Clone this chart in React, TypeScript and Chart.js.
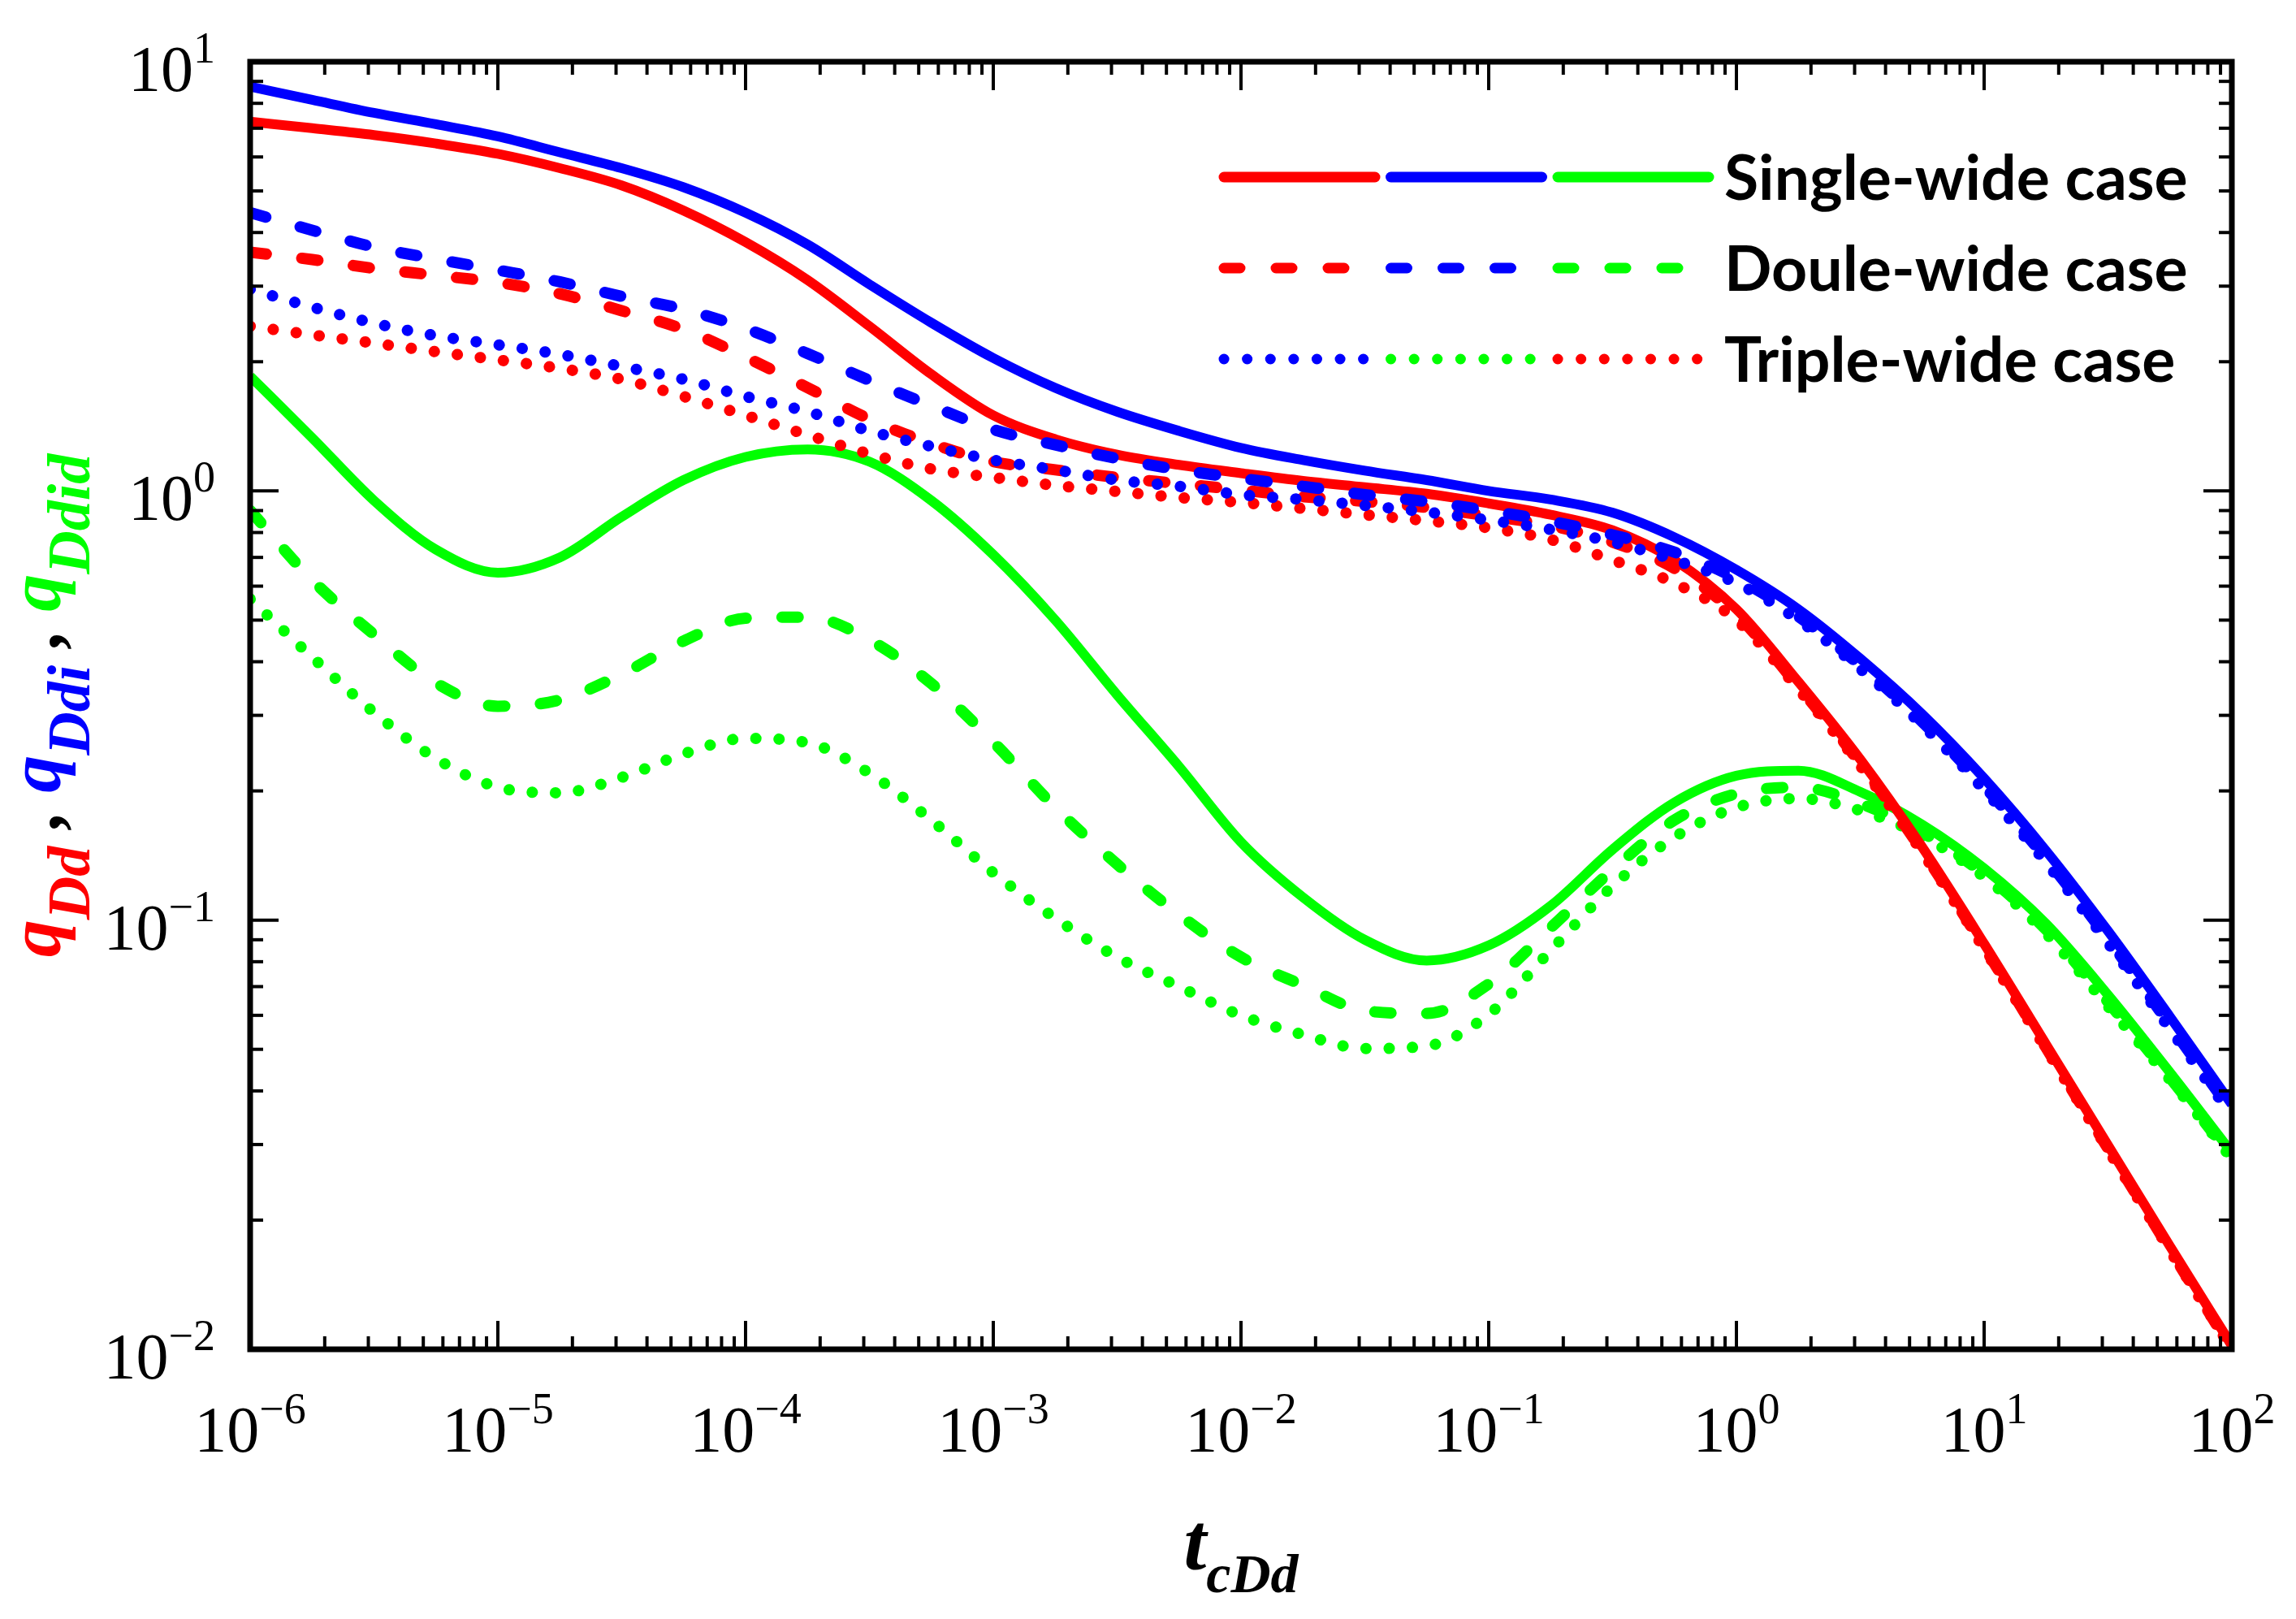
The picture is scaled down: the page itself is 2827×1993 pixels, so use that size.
import { useEffect, useRef } from "react";
import { Chart, registerables } from "chart.js";

Chart.register(...registerables);

// dimensionless time, quarter-decade grid
const tcDd = [
  1e-6, 1.78e-6, 3.16e-6, 5.62e-6, 1e-5, 1.78e-5, 3.16e-5, 5.62e-5, 1e-4, 1.78e-4, 3.16e-4, 5.62e-4,
  1e-3, 1.78e-3, 3.16e-3, 5.62e-3, 1e-2, 1.78e-2, 3.16e-2, 5.62e-2, 0.1, 0.178, 0.316, 0.562, 1, 1.78,
  3.16, 5.62, 10, 17.8, 31.6, 56.2, 100,
];

// single-wide case
const redSolid = [7.25, 7.0, 6.75, 6.45, 6.1, 5.65, 5.15, 4.5, 3.8, 3.1, 2.42, 1.87, 1.5, 1.32, 1.215, 1.15, 1.1, 1.055, 1.02, 0.985, 0.935, 0.88, 0.81, 0.69, 0.53, 0.359, 0.237, 0.148, 0.0881, 0.0513, 0.0299, 0.0174, 0.0102];
const blueSolid = [8.75, 8.15, 7.6, 7.15, 6.7, 6.15, 5.65, 5.1, 4.45, 3.75, 3.03, 2.466, 2.04, 1.738, 1.53, 1.38, 1.26, 1.18, 1.115, 1.06, 1.0, 0.955, 0.89, 0.78, 0.655, 0.53, 0.407, 0.302, 0.214, 0.145, 0.0944, 0.0596, 0.0372];
const greenSolid = [1.85, 1.33, 0.95, 0.73, 0.645, 0.7, 0.87, 1.06, 1.2, 1.25, 1.17, 0.95, 0.71, 0.5, 0.335, 0.228, 0.152, 0.113, 0.09, 0.0805, 0.0873, 0.108, 0.146, 0.188, 0.217, 0.223, 0.199, 0.167, 0.132, 0.098, 0.067, 0.0442, 0.0287];

// double-wide case
const redDashed = [3.6, 3.46, 3.3, 3.18, 3.06, 2.88, 2.63, 2.38, 2.05, 1.74, 1.47, 1.29, 1.17, 1.12, 1.075, 1.04, 1.005, 0.97, 0.945, 0.915, 0.875, 0.83, 0.76, 0.66, 0.515, 0.35, 0.232, 0.145, 0.0865, 0.0504, 0.0294, 0.0171, 0.01];
const blueDashed = [4.45, 4.05, 3.7, 3.47, 3.27, 3.07, 2.84, 2.65, 2.39, 2.09, 1.81, 1.58, 1.39, 1.28, 1.19, 1.12, 1.07, 1.025, 0.98, 0.944, 0.9, 0.85, 0.79, 0.72, 0.625, 0.51, 0.392, 0.29, 0.205, 0.139, 0.0905, 0.057, 0.0358];
const greenDashed = [0.9, 0.62, 0.463, 0.357, 0.315, 0.326, 0.374, 0.447, 0.505, 0.508, 0.45, 0.356, 0.26, 0.183, 0.135, 0.103, 0.082, 0.0705, 0.0615, 0.0606, 0.071, 0.096, 0.131, 0.171, 0.197, 0.204, 0.187, 0.16, 0.128, 0.095, 0.0645, 0.043, 0.028];

// triple-wide case
const redDotted = [2.42, 2.31, 2.21, 2.11, 2.02, 1.93, 1.82, 1.66, 1.5, 1.35, 1.22, 1.125, 1.075, 1.03, 0.997, 0.965, 0.94, 0.91, 0.88, 0.852, 0.82, 0.77, 0.69, 0.61, 0.5, 0.345, 0.229, 0.144, 0.0858, 0.05, 0.0292, 0.017, 0.01];
const blueDotted = [2.95, 2.68, 2.46, 2.3, 2.19, 2.08, 1.95, 1.82, 1.66, 1.53, 1.38, 1.27, 1.18, 1.12, 1.06, 1.025, 0.98, 0.955, 0.925, 0.893, 0.855, 0.813, 0.76, 0.69, 0.61, 0.5, 0.385, 0.285, 0.201, 0.136, 0.0885, 0.0558, 0.035];
const greenDotted = [0.56, 0.41, 0.305, 0.238, 0.204, 0.198, 0.215, 0.244, 0.265, 0.259, 0.22, 0.171, 0.129, 0.101, 0.082, 0.07, 0.06, 0.0541, 0.0502, 0.0509, 0.0603, 0.085, 0.12, 0.156, 0.183, 0.192, 0.18, 0.157, 0.126, 0.093, 0.063, 0.0425, 0.0278];

const xTickExps = ["-6", "-5", "-4", "-3", "-2", "-1", "0", "1", "2"];
const yTickExps = ["-2", "-1", "0", "1"];
const minorSteps = [2, 3, 4, 5, 6, 7, 8, 9];

const legendLabels = ["Single-wide case", "Doule-wide case", "Triple-wide case"];

const RED = "#ff0000";
const BLUE = "#0000ff";
const GREEN = "#00ff00";

const SOLID: number[] = [];
const DASHED = [20, 44];
const DOTTED = [0.1, 28.5];

const legendRows = [
  { dash: SOLID, colors: [RED, BLUE, GREEN] },
  { dash: DASHED, colors: [RED, BLUE, GREEN] },
  { dash: DOTTED, colors: [BLUE, GREEN, RED] },
];

const SERIF = '"Liberation Serif", "Times New Roman", serif';

type Run = { text: string; size: number; color: string; dy: number };

function drawRuns(ctx: CanvasRenderingContext2D, runs: Run[], x: number, y: number, style: string) {
  let w = 0;
  for (const r of runs) {
    ctx.font = `${style} ${r.size}px ${SERIF}`;
    w += ctx.measureText(r.text).width;
  }
  let cx = x - w / 2;
  for (const r of runs) {
    ctx.font = `${style} ${r.size}px ${SERIF}`;
    ctx.fillStyle = r.color;
    ctx.fillText(r.text, cx, y + r.dy);
    cx += ctx.measureText(r.text).width;
  }
}

function powLabel(ctx: CanvasRenderingContext2D, exp: string, x: number, y: number, align: "center" | "right") {
  const e = exp.replace("-", "\u2212");
  ctx.font = `80px ${SERIF}`;
  const wb = ctx.measureText("10").width;
  ctx.font = `54px ${SERIF}`;
  const we = ctx.measureText(e).width;
  const left = align === "center" ? x - (wb + we) / 2 : x - wb - we;
  ctx.fillStyle = "#000";
  ctx.font = `80px ${SERIF}`;
  ctx.fillText("10", left, y);
  ctx.font = `54px ${SERIF}`;
  ctx.fillText(e, left + wb, y - 35);
}

const decorPlugin = {
  id: "decor",
  afterDraw(chart: Chart) {
    const { ctx, chartArea: a } = chart;
    const xs = chart.scales.x;
    const ys = chart.scales.y;
    ctx.save();
    ctx.textAlign = "left";
    ctx.textBaseline = "alphabetic";

    // inward ticks on all four sides
    ctx.strokeStyle = "#000";
    ctx.lineWidth = 4;
    ctx.lineCap = "butt";
    ctx.setLineDash([]);
    const seg = (x1: number, y1: number, x2: number, y2: number) => {
      ctx.beginPath();
      ctx.moveTo(x1, y1);
      ctx.lineTo(x2, y2);
      ctx.stroke();
    };
    xTickExps.forEach((e, i) => {
      const base = Math.pow(10, Number(e));
      const steps = i < xTickExps.length - 1 ? [1, ...minorSteps] : [1];
      steps.forEach((m) => {
        const px = xs.getPixelForValue(base * m);
        const len = m === 1 ? 35 : 16;
        seg(px, a.bottom, px, a.bottom - len);
        seg(px, a.top, px, a.top + len);
      });
    });
    yTickExps.forEach((e, i) => {
      const base = Math.pow(10, Number(e));
      const steps = i < yTickExps.length - 1 ? [1, ...minorSteps] : [1];
      steps.forEach((m) => {
        const py = ys.getPixelForValue(base * m);
        const len = m === 1 ? 35 : 16;
        seg(a.left, py, a.left + len, py);
        seg(a.right, py, a.right - len, py);
      });
    });

    // frame
    ctx.lineWidth = 7;
    ctx.strokeRect(a.left, a.top, a.right - a.left, a.bottom - a.top);

    // tick labels
    xTickExps.forEach((e) => powLabel(ctx, e, xs.getPixelForValue(Math.pow(10, Number(e))), a.bottom + 126, "center"));
    yTickExps.forEach((e) => powLabel(ctx, e, 265, ys.getPixelForValue(Math.pow(10, Number(e))) + 36, "right"));

    // axis titles
    drawRuns(
      ctx,
      [
        { text: "t", size: 100, color: "#000", dy: 0 },
        { text: "cDd", size: 68, color: "#000", dy: 28 },
      ],
      (a.left + a.right) / 2,
      1932,
      "bold italic"
    );
    ctx.save();
    ctx.translate(74, (a.top + a.bottom) / 2);
    ctx.rotate(-Math.PI / 2);
    drawRuns(
      ctx,
      [
        { text: "q", size: 92, color: RED, dy: 0 },
        { text: "Dd", size: 74, color: RED, dy: 36 },
        { text: " , ", size: 88, color: "#000", dy: 0 },
        { text: "q", size: 92, color: BLUE, dy: 0 },
        { text: "Ddi", size: 74, color: BLUE, dy: 36 },
        { text: " , ", size: 88, color: "#000", dy: 0 },
        { text: "q", size: 92, color: GREEN, dy: 0 },
        { text: "Ddid", size: 74, color: GREEN, dy: 36 },
      ],
      0,
      0,
      "bold italic"
    );
    ctx.restore();

    // legend
    legendRows.forEach((row, r) => {
      const y = 218 + r * 112;
      row.colors.forEach((c, k) => {
        const sx = 1500 + k * 205.5;
        ctx.strokeStyle = c;
        ctx.lineWidth = 13;
        ctx.lineCap = "round";
        ctx.setLineDash(row.dash);
        ctx.lineDashOffset = 0;
        seg(sx + 7, y, sx + 193, y);
      });
      ctx.setLineDash([]);
      ctx.fillStyle = "#000";
      ctx.font = 'bold 77px Lato, "Open Sans", sans-serif';
      ctx.fillText(legendLabels[r], 2123, y + 28);
    });
    ctx.restore();
  },
};

const line = (label: string, data: number[], color: string, dash: number[]) => ({
  label,
  data,
  borderColor: color,
  backgroundColor: color,
  borderWidth: dash.length ? 14 : 12,
  borderDash: dash,
  borderCapStyle: (dash.length ? "round" : "butt") as CanvasLineCap,
  borderJoinStyle: "round" as CanvasLineJoin,
  pointRadius: 0,
  fill: false,
  cubicInterpolationMode: "monotone" as const,
});

const App = () => {
  const canvasRef = useRef<HTMLCanvasElement>(null);

  useEffect(() => {
    if (!canvasRef.current) return;
    document.body.style.margin = "0";
    const chart = new Chart(canvasRef.current, {
      type: "line",
      data: {
        labels: tcDd,
        datasets: [
          line("Double-wide blue", blueDashed, BLUE, DASHED),
          line("Triple-wide blue", blueDotted, BLUE, DOTTED),
          line("Single-wide blue", blueSolid, BLUE, SOLID),
          line("Single-wide red", redSolid, RED, SOLID),
          line("Double-wide red", redDashed, RED, DASHED),
          line("Triple-wide red", redDotted, RED, DOTTED),
          line("Single-wide green", greenSolid, GREEN, SOLID),
          line("Double-wide green", greenDashed, GREEN, DASHED),
          line("Triple-wide green", greenDotted, GREEN, DOTTED),
        ],
      },
      options: {
        animation: false,
        responsive: true,
        maintainAspectRatio: false,
        devicePixelRatio: 1,
        events: [],
        layout: { padding: { left: 308, right: 79, top: 76, bottom: 332 } },
        plugins: { legend: { display: false }, tooltip: { enabled: false } },
        scales: {
          x: { type: "logarithmic", min: 1e-6, max: 100, display: false },
          y: { type: "logarithmic", min: 0.01, max: 10, display: false },
        },
      },
      plugins: [decorPlugin],
    });
    return () => chart.destroy();
  }, []);

  return (
    <div style={{ position: "absolute", left: 0, top: 0, width: "2827px", height: "1993px", background: "#fff" }}>
      <canvas ref={canvasRef}></canvas>
    </div>
  );
};

export default App;
